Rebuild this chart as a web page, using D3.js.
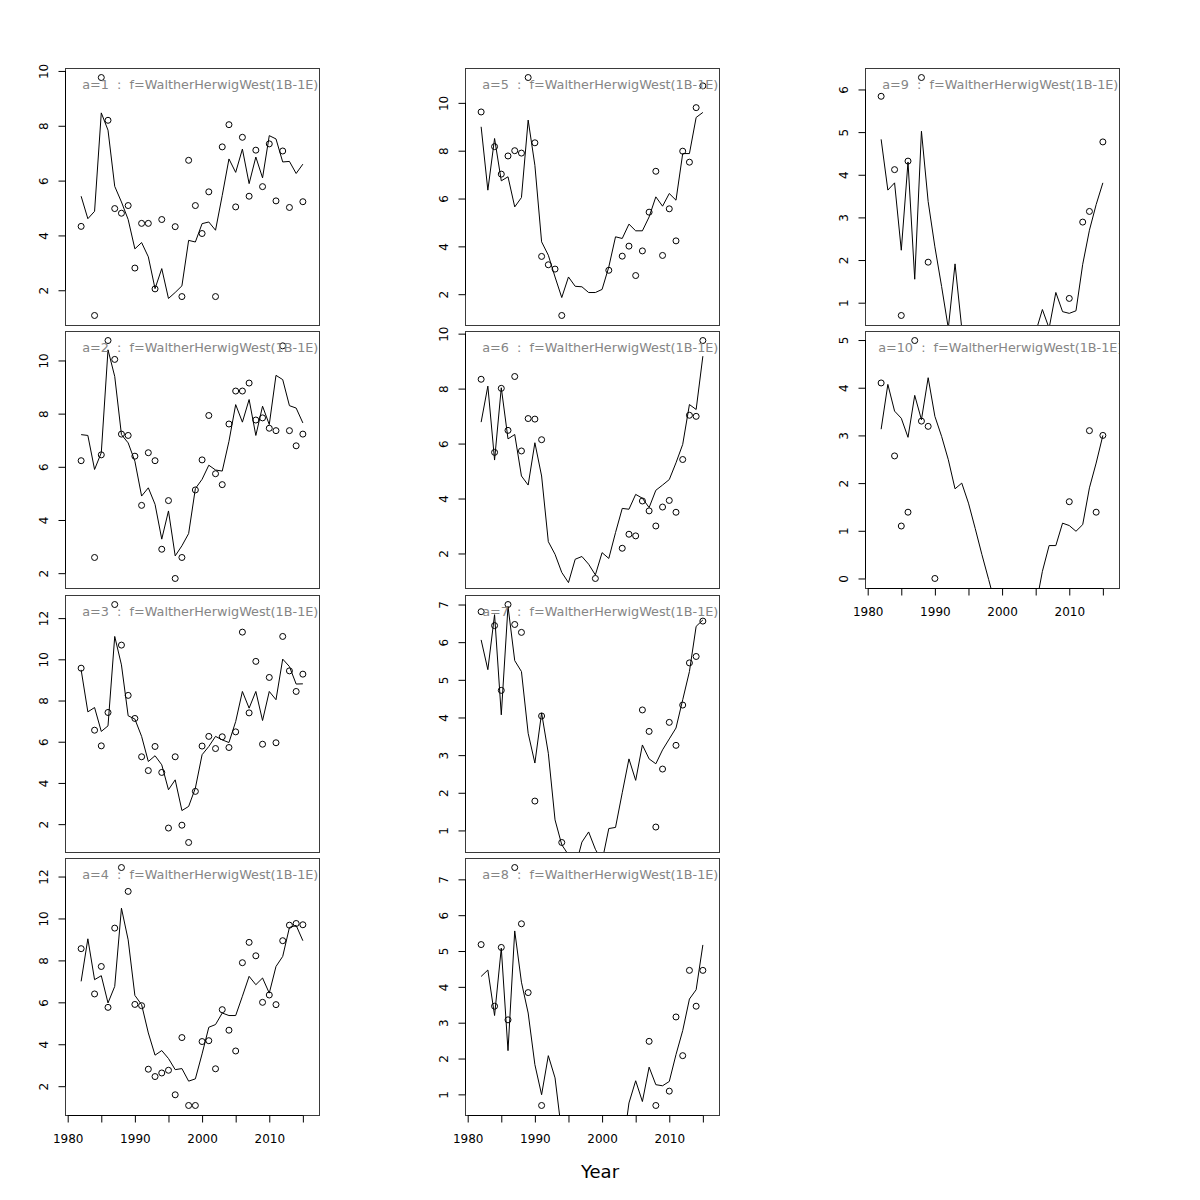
<!DOCTYPE html>
<html><head><meta charset="utf-8">
<script src="https://cdn.jsdelivr.net/npm/d3@7"></script>
<style>
body{margin:0;background:#fff}
text{font-family:"DejaVu Sans",sans-serif}
</style>
</head><body>
<svg id="chart" width="1200" height="1200"></svg>
<script>
// ---------------- DATA ----------------
const years = [1982,1983,1984,1985,1986,1987,1988,1989,1990,1991,1992,1993,1994,1995,1996,1997,1998,1999,2000,2001,2002,2003,2004,2005,2006,2007,2008,2009,2010,2011,2012,2013,2014,2015];
const ageLabels = [1,2,3,4,5,6,7,8,9,10];
const fleetName = "WaltherHerwigWest(1B-1E)";
const xTicks = [1980,1985,1990,1995,2000,2005,2010,2015];
const xTickLabels = [1980,1990,2000,2010];
const xAxisTitle = "Year";

const obs1 = [4.33,null,1.08,9.76,8.2,4.98,4.81,5.09,2.81,4.44, 4.44,2.05,4.58,null,4.32,1.77,6.74,5.09,4.07,5.59, 1.77,7.23,8.04,5.04,7.58,5.43,7.11,5.78,7.34,5.26, 7.08,5.02,null,5.23];
const fit1 = [5.43,4.61,4.88,8.47,7.84,5.79,5.22,4.58,3.51,3.74, 3.22,2.06,2.79,1.70,1.92,2.16,3.82,3.76,4.43,4.49, 4.19,5.46,6.79,6.30,7.15,5.89,6.86,6.10,7.64,7.52, 6.68,6.70,6.26,6.60];
const obs2 = [6.23,null,2.59,6.45,10.75,10.04,7.23,7.18,6.40,4.55, 6.53,6.23,2.9,4.73,1.8,2.59,null,5.13,6.26,7.93, 5.74,5.33,7.61,8.85,8.85,9.15,7.76,7.84,7.45,7.36, 10.55,7.36,6.79,7.23];
const fit2 = [7.21,7.18,5.9,6.53,10.4,9.4,7.21,6.9,6.21,4.9, 5.21,4.59,3.28,4.34,2.65,3.03,3.49,5.18,5.53,6.06, 5.88,5.84,6.96,8.34,7.68,8.53,7.18,8.28,7.59,9.44, 9.28,8.3,8.21,7.65];
const obs3 = [9.57,null,6.56,5.8,7.42,12.66,10.69,8.25,7.13,5.27, 4.6,5.77,4.51,1.81,5.27,1.95,1.11,3.59,5.79,6.26, 5.67,6.24,5.72,6.48,11.32,7.40,9.9,5.88,9.12,5.95, 11.11,9.44,8.44,9.28];
const fit3 = [9.49,7.45,7.66,6.5,6.77,11.11,9.73,7.26,7.1,6.26, 5.04,5.32,4.88,3.67,4.15,2.66,2.86,3.75,5.37,5.77, 6.26,6.09,5.96,6.98,8.44,7.63,8.44,7.03,8.44,8.04, 10.01,9.65,8.80,8.81];
const obs4 = [8.56,null,6.40,7.71,5.76,9.54,12.43,11.29,5.9,5.84, 2.81,2.46,2.63,2.76,1.59,4.32,1.08,1.08,4.13,4.17, 2.83,5.65,4.67,3.68,7.89,8.86,8.22,6.0,6.35,5.89, 8.94,9.68,9.76,9.70];
const fit4 = [7.0,9.03,7.08,7.27,5.97,6.76,10.49,8.98,6.33,5.89, 4.54,3.48,3.70,3.32,2.79,2.84,2.24,2.35,3.54,4.81, 4.94,5.49,5.37,5.37,6.29,7.24,6.84,7.16,6.44,7.71, 8.19,9.57,9.67,8.94];
const obs5 = [9.62,null,8.17,7.02,7.78,8.0,7.9,11.06,8.33,3.58, 3.23,3.05,1.11,null,null,null,null,null,null,3.0, null,3.59,4.01,2.78,3.81,5.43,7.14,3.62,5.57,4.23, 7.98,7.52,9.8,10.71];
const fit5 = [9.0,6.35,8.51,6.74,6.91,5.65,6.04,9.28,7.39,4.19, 3.63,2.72,1.86,2.72,2.33,2.31,2.07,2.07,2.2,3.14, 4.40,4.33,4.93,4.65,4.65,5.23,6.07,5.68,6.21,5.93, 7.88,7.88,9.39,9.6];
const obs6 = [8.34,null,5.68,8.01,6.48,8.44,5.73,6.91,6.89,6.14, null,null,null,null,null,null,null,1.09,null,null, null,2.19,2.70,2.64,3.91,3.55,3.0,3.69,3.93,3.50, 5.42,7.03,6.99,9.75];
const fit6 = [6.78,8.09,5.40,8.03,6.17,6.33,4.82,4.49,6.03,4.82, 2.43,1.97,1.31,0.94,1.79,1.89,1.61,1.22,2.03,1.82, 2.76,3.64,3.61,4.15,4.01,3.67,4.30,4.49,4.69,5.30, 5.97,7.42,7.24,9.18];
const obs7 = [6.81,null,6.44,4.72,7.0,6.47,6.26,null,1.78,4.04, null,null,0.68,null,null,null,null,null,null,null, null,null,null,null,4.20,3.63,1.09,2.63,3.87,3.26, 4.33,5.45,5.62,6.56];
const fit7 = [6.06,5.27,6.73,4.07,6.95,5.51,5.22,3.58,2.79,4.12, 3.05,1.28,0.62,0.35,0.02,0.69,0.96,0.5,0.18,1.05, 1.08,2.0,2.9,2.33,3.27,2.9,2.77,3.14,3.43,3.72, 4.47,5.22,6.42,6.59];
const obs8 = [5.18,null,3.46,5.10,3.08,7.33,5.76,3.84,null,0.69, null,null,null,null,null,null,null,null,null,null, null,null,null,null,null,2.48,0.69,null,1.09,3.16, 2.08,4.46,3.46,4.46];
const fit8 = [4.29,4.47,3.20,5.08,2.22,5.56,4.13,3.27,1.83,0.99, 2.08,1.46,-0.08,null,null,null,null,null,null,null, null,-0.62,0.76,1.38,0.80,1.76,1.27,1.24,1.36,2.11, 2.78,3.66,3.92,5.17];
const obs9 = [5.84,null,4.12,0.70,4.32,null,6.28,1.95,null,null, null,null,null,null,null,null,null,null,null,null, null,null,null,null,null,null,null,null,1.10,null, 2.89,3.14,null,4.77];
const fit9 = [4.83,3.64,3.81,2.23,4.30,1.55,5.02,3.37,2.31,1.38, 0.4,1.91,0.4,null,null,null,null,null,null,null, null,null,null,0.31,0.84,0.4,1.24,0.79,0.75,0.81, 1.9,2.7,3.3,3.81];
const obs10 = [4.10,null,2.57,1.10,1.39,4.99,3.30,3.19,0.0,null, null,null,null,null,null,null,null,null,null,null, null,null,null,null,null,null,null,null,1.61,null, null,3.10,1.39,3.0];
const fit10 = [3.13,4.07,3.51,3.36,2.96,3.84,3.33,4.21,3.40,2.98, 2.49,1.88,2.00,1.58,1.05,0.50,-0.02,-0.55,null,null, null,null,null,-0.6,0.15,0.69,0.69,1.16,1.11,0.99, 1.13,1.90,2.42,3.0];

const yTicks1 = [2,4,6,8,10];
const yTicks2 = [2,4,6,8,10];
const yTicks3 = [2,4,6,8,10,12];
const yTicks4 = [2,4,6,8,10,12];
const yTicks5 = [2,4,6,8,10];
const yTicks6 = [2,4,6,8,10];
const yTicks7 = [1,2,3,4,5,6,7];
const yTicks8 = [1,2,3,4,5,6,7];
const yTicks9 = [1,2,3,4,5,6];
const yTicks10 = [0,1,2,3,4,5];

const obsList = [obs1,obs2,obs3,obs4,obs5,obs6,obs7,obs8,obs9,obs10];
const fitList = [fit1,fit2,fit3,fit4,fit5,fit6,fit7,fit8,fit9,fit10];
const yTickList = [yTicks1,yTicks2,yTicks3,yTicks4,yTicks5,yTicks6,yTicks7,yTicks8,yTicks9,yTicks10];

// ---------------- LAYOUT ----------------
const W = 254, H = 257;
const colX = [65, 465, 865];
const rowY = [68, 331.33, 594.67, 858];
const FONT = 12;

const svg = d3.select("#chart");
const defs = svg.append("defs");

const x = d3.scaleLinear().domain([1979.6, 2017.4]).range([0, W]);

ageLabels.forEach((a, i) => {
  const col = Math.floor(i / 4), row = i % 4;
  const x0 = colX[col], y0 = Math.round(rowY[row]);
  const obs = obsList[i], fit = fitList[i];
  const vals = obs.filter(v => v != null);
  const [mn, mx] = d3.extent(vals);
  const pad = 0.04 * (mx - mn);
  const y = d3.scaleLinear().domain([mn - pad, mx + pad]).range([H, 0]);

  const g = svg.append("g").attr("transform", `translate(${x0},${y0})`);
  const cid = "clip" + i;
  defs.append("clipPath").attr("id", cid).append("rect")
    .attr("x", 0).attr("y", 0).attr("width", W).attr("height", H);

  // box
  g.append("rect").attr("x", 0.5).attr("y", 0.5).attr("width", W).attr("height", H)
    .attr("fill", "none").attr("stroke", "#3a3a3a").attr("stroke-width", 1);

  const plot = g.append("g").attr("clip-path", `url(#${cid})`);

  // fitted line
  const lineData = years.map((yr, k) => ({yr, v: fit[k]}));
  const line = d3.line().defined(d => d.v != null).x(d => x(d.yr)).y(d => y(d.v));
  plot.append("path").datum(lineData).attr("d", line)
    .attr("fill", "none").attr("stroke", "#000").attr("stroke-width", 1);

  // observed points
  const pts = years.map((yr, k) => ({yr, v: obs[k]})).filter(d => d.v != null);
  plot.selectAll("circle.pt").data(pts).enter().append("circle")
    .attr("class", "pt").attr("cx", d => x(d.yr)).attr("cy", d => y(d.v))
    .attr("r", 3).attr("fill", "none").attr("stroke", "#000").attr("stroke-width", 1);

  // label
  plot.append("text")
    .attr("x", W / 2 + 8.3).attr("y", 20.7)
    .attr("text-anchor", "middle").attr("fill", "#858585")
    .style("font-size", "12.8px").style("white-space", "pre")
    .text(`a=${a}  :  f=${fleetName}`);

  // y axis
  const yt = yTickList[i];
  const yAxis = g.append("g").attr("transform", "translate(0.5,0)")
    .call(d3.axisLeft(y).tickValues(yt).tickSize(7).tickFormat(d3.format("d")));
  yAxis.select(".domain").remove();
  yAxis.append("line").attr("x1", 0).attr("x2", 0)
    .attr("y1", y(yt[0])).attr("y2", y(yt[yt.length - 1])).attr("stroke", "#000");
  yAxis.selectAll(".tick line").attr("stroke", "#000");
  yAxis.selectAll(".tick text")
    .attr("transform", "rotate(-90)")
    .attr("x", 0).attr("y", -17.6).attr("dy", null)
    .attr("text-anchor", "middle").attr("fill", "#000")
    .style("font-size", FONT + "px").style("font-family", "DejaVu Sans");

  // x axis on bottom panel of each column
  const bottom = (row === 3) || (i === ageLabels.length - 1);
  if (bottom) {
    const xAxis = g.append("g").attr("transform", `translate(0,${H + 0.5})`)
      .call(d3.axisBottom(x).tickValues(xTicks).tickSize(7)
        .tickFormat(d => xTickLabels.includes(d) ? String(d) : ""));
    xAxis.select(".domain").remove();
    xAxis.append("line").attr("y1", 0).attr("y2", 0)
      .attr("x1", x(xTicks[0])).attr("x2", x(xTicks[xTicks.length - 1])).attr("stroke", "#000");
    xAxis.selectAll(".tick line").attr("stroke", "#000");
    xAxis.selectAll(".tick text").attr("y", 27.5).attr("dy", null).attr("fill", "#000")
      .style("font-size", FONT + "px").style("font-family", "DejaVu Sans");
  }
});

svg.append("text").attr("x", 600).attr("y", 1178).attr("text-anchor", "middle")
  .style("font-size", "18px").attr("fill", "#000").text(xAxisTitle);
</script>
</body></html>
